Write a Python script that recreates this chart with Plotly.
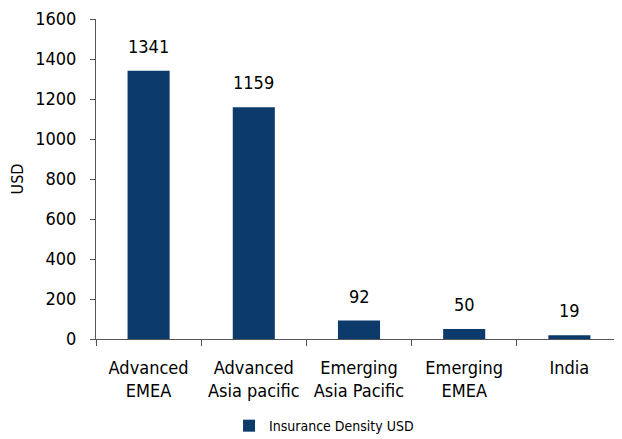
import plotly.graph_objects as go

categories = ["Advanced<br>EMEA", "Advanced<br>Asia pacific", "Emerging<br>Asia Pacific",
              "Emerging<br>EMEA", "India"]
density_usd = [1341, 1159, 92, 50, 19]
series_name = "Insurance Density USD"

FONT = "Liberation Sans Narrow, DejaVu Sans Condensed, Arial Narrow, sans-serif"
BAR_COLOR = "#0b3a6b"
AXIS_COLOR = "#555555"

# page body has an 8px default margin, so the figure is sized to fit inside the window
W, H = 614, 431

fig = go.Figure()
fig.add_trace(go.Bar(
    x=categories, y=density_usd, name=series_name,
    marker=dict(color=BAR_COLOR, line=dict(width=0)),
    width=0.4,
))

# value labels above bars
for c, v in zip(categories, density_usd):
    fig.add_annotation(x=c, y=v, text=str(v), showarrow=False,
                       yanchor="bottom", yshift=12,
                       font=dict(family=FONT, size=18, color="#000000"))

fig.update_layout(
    width=W, height=H,
    margin=dict(l=88, r=0, t=11, b=100),
    paper_bgcolor="white", plot_bgcolor="white",
    font=dict(family=FONT, size=18, color="#000000"),
    showlegend=True,
    legend=dict(orientation="h", xref="container", yref="container",
                x=0.36, xanchor="left", y=0.03, yanchor="middle",
                font=dict(family=FONT, size=14), itemwidth=30),
    bargap=0.6,
    xaxis=dict(showline=True, linecolor=AXIS_COLOR, linewidth=1, automargin=False,
               ticks="outside", tickson="boundaries", ticklen=6, tickcolor=AXIS_COLOR,
               ticklabelstandoff=12,
               showgrid=False, tickfont=dict(family=FONT, size=18)),
    yaxis=dict(title=dict(text="USD", font=dict(family=FONT, size=16)),
               range=[0, 1600], dtick=200, showline=True, linecolor=AXIS_COLOR, linewidth=1,
               ticks="outside", ticklen=5, tickcolor=AXIS_COLOR, automargin=False,
               ticklabelstandoff=10, ticklabeloverflow="allow",
               showgrid=False, zeroline=False, tickfont=dict(family=FONT, size=18)),
)

fig.write_html("out.html")
